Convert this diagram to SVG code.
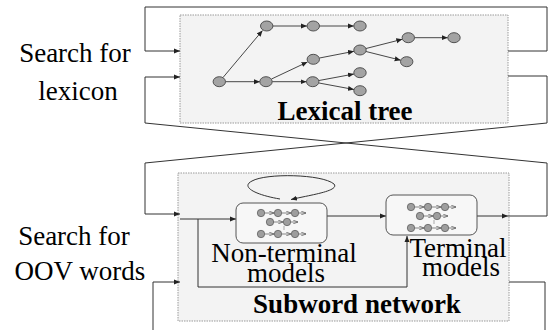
<svg xmlns="http://www.w3.org/2000/svg" width="551" height="330" viewBox="0 0 551 330">
<defs>
<marker id="ah" markerUnits="userSpaceOnUse" markerWidth="6" markerHeight="6" refX="6" refY="3" orient="auto">
<path d="M0,0.5 L6,3 L0,5.5 z" fill="#222"/>
</marker>
<marker id="sh" markerUnits="userSpaceOnUse" markerWidth="5" markerHeight="4" refX="5" refY="2" orient="auto">
<path d="M0,0 L5,2 L0,4" fill="none" stroke="#444" stroke-width="0.6"/>
</marker>
<g id="mini">
<g stroke="#555" stroke-width="0.7" marker-end="url(#sh)">
<line x1="29" y1="11" x2="38" y2="11"/>
<line x1="46" y1="11" x2="55" y2="11"/>
<line x1="63" y1="11" x2="70" y2="11"/>
<line x1="37.5" y1="20" x2="47" y2="20"/>
<line x1="55" y1="20" x2="62" y2="20"/>
<line x1="29" y1="32" x2="38" y2="32"/>
<line x1="46" y1="32" x2="55" y2="32"/>
<line x1="63" y1="32" x2="70" y2="32"/>
</g>
<line x1="48" y1="24" x2="48" y2="28" stroke="#777" stroke-width="0.6"/>
<g fill="#9e9e9e" stroke="#555" stroke-width="0.7">
<circle cx="25" cy="11" r="3.7"/>
<circle cx="42" cy="11" r="3.7"/>
<circle cx="59" cy="11" r="3.7"/>
<circle cx="34" cy="20" r="3.7"/>
<circle cx="51" cy="20" r="3.7"/>
<circle cx="25" cy="32" r="3.7"/>
<circle cx="42" cy="32" r="3.7"/>
<circle cx="59" cy="32" r="3.7"/>
</g>
</g>
</defs>
<rect width="551" height="330" fill="#fff"/>

<g id="lexical-tree">
<rect x="180" y="15" width="328" height="108" fill="#f3f3f3" stroke="#9a9a9a" stroke-dasharray="1.5 1"/>
<text x="345" y="120" font-family="Liberation Serif" font-size="27" font-weight="bold" text-anchor="middle">Lexical tree</text>
</g>

<g id="subword-network">
<rect x="178" y="173" width="331" height="148" fill="#f3f3f3" stroke="#9a9a9a" stroke-dasharray="1.5 1"/>
<text x="357" y="313" font-family="Liberation Serif" font-size="27" font-weight="bold" text-anchor="middle">Subword network</text>
</g>

<g id="labels" font-family="Liberation Serif" font-size="27" text-anchor="middle">
<text x="75" y="62">Search for</text>
<text x="78" y="100">lexicon</text>
<text x="74" y="245">Search for</text>
<text x="80" y="280">OOV words</text>
</g>

<g id="connectors">
<g stroke="#333" stroke-width="1" fill="none">
<path d="M508 51 H547 V7 H145 V51 H180" marker-end="url(#ah)"/>
<path d="M508 76 H547 V123 L145 163 V214 H180" marker-end="url(#ah)"/>
<path d="M508 216 H547 V163 L145 123 V77 H180" marker-end="url(#ah)"/>
<path d="M153 330 V282 H180" marker-end="url(#ah)"/>
<path d="M509 282 H545 V330"/>
<path d="M180 219 H236" marker-end="url(#ah)"/>
<path d="M198 219 V287 H407 V236" marker-end="url(#ah)"/>
<path d="M327 216 H386" marker-end="url(#ah)"/>
<path d="M477 216 H508" marker-end="url(#ah)"/>
<path d="M280 199 C256 195 240 187 252 181 C266 173 322 174 334 184 C340 191 310 195 291 199.5" marker-end="url(#ah)"/>
</g>
<g stroke="#333" stroke-width="0.9" fill="none" marker-end="url(#ah)">
<line x1="223" y1="77.5" x2="262.5" y2="30.5"/>
<line x1="225.5" y1="81.7" x2="260" y2="81.7"/>
<line x1="273" y1="26" x2="307" y2="26"/>
<line x1="319.5" y1="26" x2="353.8" y2="26"/>
<line x1="272.2" y1="81.7" x2="306.5" y2="81.7"/>
<line x1="271.5" y1="79" x2="307.5" y2="62"/>
<line x1="319.5" y1="58" x2="354" y2="51.3"/>
<line x1="366" y1="48.5" x2="402.3" y2="39.3"/>
<line x1="414.5" y1="37.7" x2="447.8" y2="37.7"/>
<line x1="366" y1="51.5" x2="400.7" y2="60.2"/>
<line x1="319" y1="80.5" x2="354" y2="74"/>
<line x1="319" y1="83" x2="354" y2="89.5"/>
</g>
</g>

<g id="tree-nodes" fill="#a3a3a3" stroke="#444" stroke-width="0.9">
<ellipse cx="219.3" cy="81.7" rx="6.2" ry="5"/>
<ellipse cx="266.7" cy="26" rx="6.2" ry="5"/>
<ellipse cx="313.3" cy="26" rx="6.2" ry="5"/>
<ellipse cx="360" cy="26" rx="6.2" ry="5"/>
<ellipse cx="266" cy="81.7" rx="6.2" ry="5"/>
<ellipse cx="312.7" cy="81.7" rx="6.2" ry="5"/>
<ellipse cx="313.3" cy="59.3" rx="6.2" ry="5"/>
<ellipse cx="360" cy="50" rx="6.2" ry="5"/>
<ellipse cx="408.3" cy="37.7" rx="6.2" ry="5"/>
<ellipse cx="454" cy="37.7" rx="6.2" ry="5"/>
<ellipse cx="406.7" cy="61.7" rx="6.2" ry="5"/>
<ellipse cx="360" cy="72.7" rx="6.2" ry="5"/>
<ellipse cx="360" cy="90.7" rx="6.2" ry="5"/>
</g>

<g id="non-terminal-models">
<rect x="236" y="203" width="91" height="40" rx="7" fill="#f7f7f7" stroke="#555"/>
<use href="#mini" x="236" y="202"/>
<text x="284" y="262" font-family="Liberation Serif" font-size="27" text-anchor="middle">Non-terminal</text>
<text x="286" y="282" font-family="Liberation Serif" font-size="27" text-anchor="middle">models</text>
</g>

<g id="terminal-models">
<rect x="386" y="195" width="91" height="40" rx="7" fill="#f7f7f7" stroke="#555"/>
<use href="#mini" x="386" y="196"/>
<text x="458" y="257" font-family="Liberation Serif" font-size="27" text-anchor="middle">Terminal</text>
<text x="461" y="276" font-family="Liberation Serif" font-size="27" text-anchor="middle">models</text>
</g>
</svg>
